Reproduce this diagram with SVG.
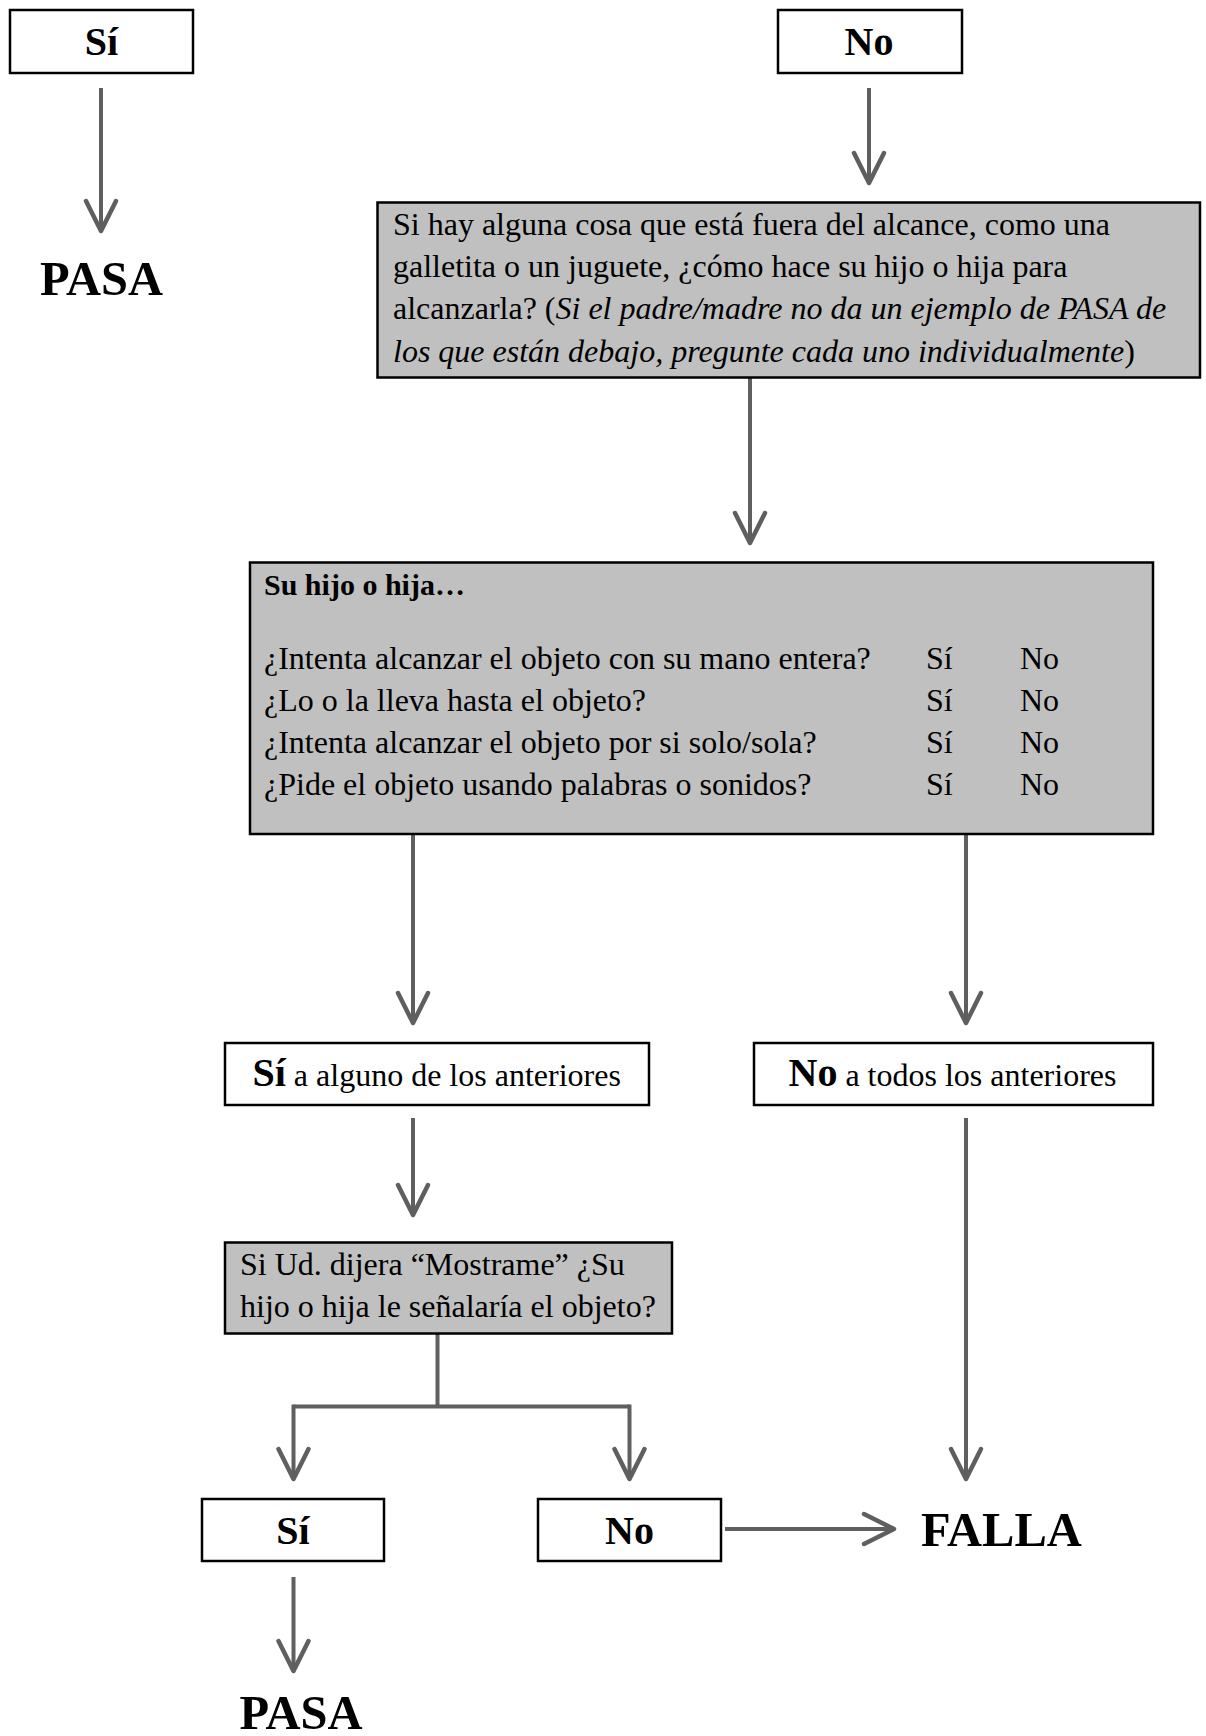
<svg xmlns="http://www.w3.org/2000/svg" width="1206" height="1736" viewBox="0 0 1206 1736">
  <style>
    .box { fill: #ffffff; stroke: #000000; stroke-width: 2.5; }
    .grey { fill: #c0c0c0; stroke: #000000; stroke-width: 2.5; }
    .t { font-family: "Liberation Serif", "Times New Roman", serif; font-size: 32px; fill: #000000; }
    .b { font-family: "Liberation Serif", "Times New Roman", serif; font-weight: bold; fill: #000000; }
    .lbl { font-size: 40px; }
    .big { font-size: 48.5px; }
    .it { font-style: italic; }
    .wire { fill: none; stroke: #5f5f5f; stroke-width: 4; }
  </style>
  <defs>
    <marker id="chev" markerUnits="userSpaceOnUse" markerWidth="40" markerHeight="40" refX="0" refY="0" orient="auto" overflow="visible">
      <path d="M-30,-15 L0,0 L-30,15" fill="none" stroke="#5f5f5f" stroke-width="4.5" stroke-linecap="round" stroke-linejoin="round"/>
    </marker>
  </defs>

  <rect width="1206" height="1736" fill="#ffffff"/>

  <!-- connectors -->
  <g id="connectors">
    <path class="wire" d="M101,88 V231" marker-end="url(#chev)"/>
    <path class="wire" d="M869,88 V183" marker-end="url(#chev)"/>
    <path class="wire" d="M750,378 V543" marker-end="url(#chev)"/>
    <path class="wire" d="M413,834 V1023" marker-end="url(#chev)"/>
    <path class="wire" d="M966,834 V1023" marker-end="url(#chev)"/>
    <path class="wire" d="M413,1118 V1215" marker-end="url(#chev)"/>
    <path class="wire" d="M437.5,1334 V1406.5"/>
    <path class="wire" d="M293.5,1406.5 H629.5"/>
    <path class="wire" d="M293.5,1404.5 V1479" marker-end="url(#chev)"/>
    <path class="wire" d="M629.5,1404.5 V1479" marker-end="url(#chev)"/>
    <path class="wire" d="M966,1118 V1479" marker-end="url(#chev)"/>
    <path class="wire" d="M725,1529 H894" marker-end="url(#chev)"/>
    <path class="wire" d="M293.5,1577 V1671" marker-end="url(#chev)"/>
  </g>

  <!-- top answer: yes -->
  <g id="top-si">
    <rect class="box" x="10" y="10" width="183" height="63"/>
    <text class="b lbl" x="101.5" y="55" text-anchor="middle">Sí</text>
  </g>
  <g id="top-pasa">
    <text class="b big" x="101.5" y="295" text-anchor="middle">PASA</text>
  </g>

  <!-- top answer: no -->
  <g id="top-no">
    <rect class="box" x="778" y="10" width="184" height="63"/>
    <text class="b lbl" x="869" y="55" text-anchor="middle">No</text>
  </g>

  <!-- question: reaching for an object -->
  <g id="q-alcance">
    <rect class="grey" x="377.5" y="202.5" width="822.5" height="175"/>
    <text class="t" x="393" y="235">Si hay alguna cosa que está fuera del alcance, como una</text>
    <text class="t" x="393" y="277">galletita o un juguete, ¿cómo hace su hijo o hija para</text>
    <text class="t" x="393" y="319">alcanzarla? (<tspan class="it">Si el padre/madre no da un ejemplo de PASA de</tspan></text>
    <text class="t" x="393" y="361.5"><tspan class="it">los que están debajo, pregunte cada uno individualmente</tspan>)</text>
  </g>

  <!-- checklist -->
  <g id="checklist">
    <rect class="grey" x="250" y="562.5" width="903" height="271.5"/>
    <text class="b" style="font-size:30px" x="264" y="595">Su hijo o hija…</text>
    <text class="t" x="264" y="669">¿Intenta alcanzar el objeto con su mano entera?</text>
    <text class="t" x="264" y="711">¿Lo o la lleva hasta el objeto?</text>
    <text class="t" x="264" y="753">¿Intenta alcanzar el objeto por si solo/sola?</text>
    <text class="t" x="264" y="795">¿Pide el objeto usando palabras o sonidos?</text>
    <text class="t" x="926" y="669">Sí</text>
    <text class="t" x="926" y="711">Sí</text>
    <text class="t" x="926" y="753">Sí</text>
    <text class="t" x="926" y="795">Sí</text>
    <text class="t" x="1020" y="669">No</text>
    <text class="t" x="1020" y="711">No</text>
    <text class="t" x="1020" y="753">No</text>
    <text class="t" x="1020" y="795">No</text>
  </g>

  <!-- any yes -->
  <g id="si-alguno">
    <rect class="box" x="225" y="1043" width="424" height="62"/>
    <text class="t" x="252.5" y="1086"><tspan class="b lbl">Sí</tspan> a alguno de los anteriores</text>
  </g>

  <!-- all no -->
  <g id="no-todos">
    <rect class="box" x="754" y="1043" width="399" height="62"/>
    <text class="t" x="788.5" y="1086"><tspan class="b lbl">No</tspan> a todos los anteriores</text>
  </g>

  <!-- question: pointing -->
  <g id="q-mostrame">
    <rect class="grey" x="225" y="1242.5" width="447" height="91"/>
    <text class="t" x="240" y="1275">Si Ud. dijera “Mostrame” ¿Su</text>
    <text class="t" x="240" y="1317">hijo o hija le señalaría el objeto?</text>
  </g>

  <!-- bottom answers -->
  <g id="bottom-si">
    <rect class="box" x="202" y="1499" width="182" height="62"/>
    <text class="b lbl" x="293" y="1544" text-anchor="middle">Sí</text>
  </g>
  <g id="bottom-no">
    <rect class="box" x="538" y="1499" width="183" height="62"/>
    <text class="b lbl" x="629.5" y="1544" text-anchor="middle">No</text>
  </g>

  <!-- outcomes -->
  <g id="falla">
    <text class="b big" x="921" y="1546">FALLA</text>
  </g>
  <g id="bottom-pasa">
    <text class="b big" x="301" y="1729" text-anchor="middle">PASA</text>
  </g>
</svg>
